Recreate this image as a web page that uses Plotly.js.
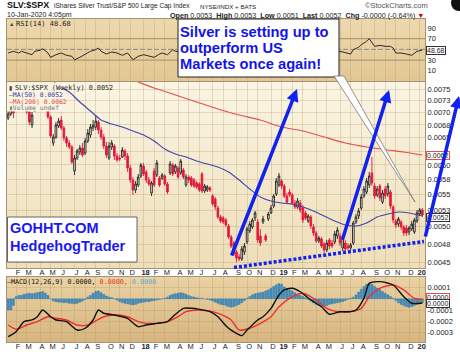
<!DOCTYPE html>
<html><head><meta charset="utf-8">
<script src="https://cdn.plot.ly/plotly-3.0.1.min.js"></script>
<style>html,body{margin:0;padding:0;background:#fff;}#chart{width:460px;height:352px;}</style>
</head><body><div id="chart"></div>
<script>
// ---------- DATA (weekly SLV:$SPX, week index 1 = 13-Jan-2017 ... 157 = 10-Jan-2020) ----------
const open = [0.006890,0.006972,0.007097,0.007055,0.007160,0.007202,0.007181,0.007309,0.007014,0.006749,
0.007034,0.007118,0.007181,0.007266,0.007440,0.007245,0.006910,0.006400,0.006515,0.006729,
0.006849,0.006690,0.006495,0.006400,0.006325,0.005893,0.006123,0.006232,0.006306,0.006214,
0.006438,0.006553,0.006690,0.006709,0.006809,0.006650,0.006515,0.006343,0.006123,0.006325,
0.006343,0.006159,0.006123,0.006141,0.006251,0.006159,0.005945,0.005738,0.005571,0.005654,
0.005806,0.005980,0.005875,0.005738,0.005522,0.005893,0.005823,0.005772,0.005772,0.005806,
0.005671,0.005858,0.005998,0.005875,0.005945,0.005858,0.005910,0.005654,0.005789,0.005772,
0.005738,0.005688,0.005671,0.005840,0.005555,0.005571,0.005604,0.005473,0.005425,0.005283,
0.005145,0.005129,0.005099,0.005009,0.004850,0.004764,0.004640,0.004572,0.004545,0.004640,
0.004779,0.004936,0.004995,0.005129,0.005069,0.004864,0.005069,0.004864,0.005114,0.005206,
0.005314,0.005505,0.005654,0.005721,0.005637,0.005473,0.005538,0.005489,0.005362,0.005299,
0.005362,0.005283,0.005206,0.005084,0.005145,0.004995,0.004907,0.004793,0.004821,0.004750,
0.004667,0.004807,0.004764,0.004779,0.004864,0.004864,0.004695,0.004764,0.004722,0.004695,
0.004764,0.005069,0.005160,0.005283,0.005473,0.005538,0.005654,0.005858,0.005637,0.005489,
0.005637,0.005377,0.005588,0.005505,0.005538,0.005299,0.005084,0.005039,0.005069,0.004995,
0.004980,0.004922,0.004966,0.004922,0.005084,0.005190,0.005252];
const high = [0.007034,0.007139,0.007139,0.007202,0.007266,0.007266,0.007374,0.007352,0.007055,0.007014,
0.007160,0.007245,0.007309,0.007528,0.007484,0.007288,0.006951,0.006572,0.006809,0.006890,
0.006931,0.006729,0.006534,0.006457,0.006362,0.006177,0.006288,0.006362,0.006400,0.006495,
0.006670,0.006769,0.006849,0.006951,0.006849,0.006709,0.006572,0.006419,0.006419,0.006457,
0.006381,0.006214,0.006177,0.006325,0.006288,0.006214,0.005998,0.005789,0.005721,0.005840,
0.006034,0.006034,0.005910,0.005789,0.005721,0.005945,0.006087,0.005806,0.005858,0.005840,
0.005704,0.006069,0.006034,0.006016,0.005980,0.006105,0.005945,0.005840,0.005823,0.005806,
0.005772,0.005721,0.005704,0.005875,0.005671,0.005654,0.005637,0.005505,0.005457,0.005314,
0.005175,0.005160,0.005129,0.005039,0.004878,0.004793,0.004667,0.004613,0.004722,0.004764,
0.004995,0.005084,0.005129,0.005237,0.005114,0.004966,0.005160,0.004893,0.005221,0.005330,
0.005505,0.005772,0.005858,0.005755,0.005671,0.005522,0.005588,0.005522,0.005409,0.005441,
0.005409,0.005330,0.005237,0.005190,0.005175,0.005039,0.004936,0.004864,0.004850,0.004779,
0.004807,0.004835,0.004807,0.004936,0.004995,0.004907,0.004878,0.004807,0.004764,0.004764,
0.005084,0.005190,0.005283,0.005505,0.005637,0.005772,0.005875,0.006141,0.005688,0.005637,
0.005671,0.005571,0.005637,0.005688,0.005571,0.005330,0.005114,0.005145,0.005099,0.005024,
0.005024,0.005009,0.005084,0.005129,0.005252,0.005283,0.005283];
const low = [0.006849,0.006931,0.006890,0.007034,0.007118,0.007118,0.007139,0.006972,0.006749,0.006690,
0.007014,0.007055,0.007097,0.007202,0.007181,0.006869,0.006495,0.006343,0.006476,0.006690,
0.006650,0.006438,0.006325,0.006288,0.006016,0.005823,0.006087,0.006177,0.006141,0.006177,
0.006400,0.006495,0.006631,0.006650,0.006572,0.006457,0.006288,0.006123,0.006087,0.006269,
0.006087,0.006051,0.006069,0.006123,0.006087,0.005875,0.005688,0.005489,0.005522,0.005621,
0.005772,0.005806,0.005688,0.005637,0.005473,0.005621,0.005789,0.005621,0.005738,0.005637,
0.005505,0.005823,0.005806,0.005840,0.005755,0.005823,0.005755,0.005621,0.005688,0.005621,
0.005604,0.005588,0.005538,0.005522,0.005522,0.005538,0.005538,0.005314,0.005252,0.005114,
0.005054,0.005039,0.004995,0.004821,0.004695,0.004585,0.004505,0.004518,0.004518,0.004599,
0.004750,0.004907,0.004966,0.005084,0.004764,0.004722,0.005039,0.004779,0.005084,0.005190,
0.005283,0.005473,0.005621,0.005588,0.005441,0.005346,0.005457,0.005330,0.005268,0.005268,
0.005206,0.005054,0.005099,0.005054,0.004966,0.004864,0.004764,0.004764,0.004695,0.004626,
0.004640,0.004681,0.004695,0.004750,0.004821,0.004722,0.004653,0.004653,0.004667,0.004667,
0.004736,0.005039,0.005114,0.005252,0.005441,0.005505,0.005604,0.005637,0.005425,0.005457,
0.005393,0.005346,0.005425,0.005457,0.005268,0.005054,0.004980,0.004995,0.004951,0.004864,
0.004864,0.004878,0.004936,0.004893,0.005054,0.005160,0.005145];
const close = [0.006972,0.007097,0.006993,0.007160,0.007202,0.007181,0.007309,0.007014,0.006809,0.006951,
0.007118,0.007181,0.007266,0.007440,0.007245,0.006910,0.006534,0.006515,0.006749,0.006829,
0.006690,0.006495,0.006400,0.006325,0.006051,0.006123,0.006251,0.006306,0.006177,0.006438,
0.006592,0.006709,0.006749,0.006829,0.006650,0.006515,0.006343,0.006177,0.006343,0.006400,
0.006159,0.006087,0.006105,0.006269,0.006159,0.005945,0.005738,0.005571,0.005671,0.005789,
0.005998,0.005840,0.005738,0.005671,0.005688,0.005654,0.006034,0.005654,0.005823,0.005671,
0.005538,0.006016,0.005840,0.005980,0.005789,0.006069,0.005789,0.005789,0.005738,0.005654,
0.005637,0.005621,0.005571,0.005555,0.005637,0.005621,0.005571,0.005346,0.005299,0.005145,
0.005084,0.005069,0.005024,0.004850,0.004722,0.004613,0.004558,0.004545,0.004681,0.004722,
0.004966,0.005039,0.005099,0.005206,0.004807,0.004764,0.005114,0.004807,0.005190,0.005283,
0.005473,0.005721,0.005806,0.005637,0.005473,0.005377,0.005489,0.005362,0.005299,0.005393,
0.005252,0.005099,0.005129,0.005160,0.005009,0.004907,0.004793,0.004835,0.004722,0.004667,
0.004764,0.004722,0.004722,0.004893,0.004951,0.004764,0.004835,0.004681,0.004695,0.004736,
0.005054,0.005145,0.005237,0.005457,0.005588,0.005721,0.005806,0.005688,0.005473,0.005588,
0.005441,0.005522,0.005473,0.005637,0.005314,0.005099,0.005024,0.005114,0.004995,0.004907,
0.004907,0.004980,0.005039,0.005099,0.005206,0.005252,0.005175];

const ma50Weeks = [16,20,24,28,32,36,40,44,48,52,56,60,64,68,72,76,80,84,88,92,96,100,104,108,112,116,120,124,128,132,136,140,144,148,152,157];
const ma50 = [0.00780,0.007573,0.007440,0.007224,0.007034,0.006849,0.006769,0.006709,0.006631,0.006553,0.006438,0.006288,0.006195,0.006141,0.006069,0.006016,0.005963,0.005875,0.005738,0.005588,0.005457,0.005393,0.005362,0.005346,0.005299,0.005237,0.005160,0.005084,0.005024,0.005009,0.005054,0.005145,0.005190,0.005221,0.005206,0.005160];
const ma200Weeks = [48,50,56,64,72,80,88,96,104,112,120,128,136,144,150,157];
const ma200 = [0.00771,0.007663,0.007528,0.007374,0.007224,0.007076,0.006951,0.006849,0.006709,0.006631,0.006515,0.006400,0.006325,0.006269,0.006232,0.006177];

const rsiWeeks = [1,3,5,6,8,10,11,13,14,16,17,19,21,23,25,26,28,30,32,34,35,36,38,40,42,44,46,48,50,52,54,56,58,59,61,63,64,68,72,76,80,84,88,92,96,100,104,108,112,116,120,124,126,128,130,131,133,134,136,137,138,139,141,143,145,146,147,149,151,153,155,157];
const rsi = [43.2,46.4,43.2,46.4,43.2,40.0,46.4,48.2,51.2,43.2,35.1,40.0,43.2,38.9,37.0,30.6,35.1,40.0,46.4,49.4,52.5,46.4,41.3,45.1,43.2,38.9,43.2,30.6,37.0,40.0,37.0,35.1,41.3,43.2,40.0,49.4,46.4,44,42,37,33,30,28,40,38,47,55,48,42,36,33,38,46.4,43.2,41.3,49.4,53.9,58.7,65.1,70.0,63.8,55.7,57.6,55.7,55.7,52.5,43.2,43.2,41.3,38.9,46.4,48.68];

const macdWeeks = [1,4,7,10,12,14,17,19,23,27,30,33,35,37,41,44,46,50,53,57,61,63,67,70,73,77,80,83,85,87,89,91,95,97,100,103,105,108,111,115,119,122,126,130,132,135,137,141,146,150,153,157];
const macd = [-3.38e-4,-2.94e-4,-2.04e-4,-1.89e-4,-1.60e-4,-1.00e-4,-1.60e-4,-1.89e-4,-2.04e-4,-2.79e-4,-2.63e-4,-1.89e-4,-1.00e-4,-1.29e-4,-1.45e-4,-1.60e-4,-1.74e-4,-2.49e-4,-2.34e-4,-2.19e-4,-2.04e-4,-1.60e-4,-0.85e-4,-0.85e-4,-0.94e-4,-1.15e-4,-1.60e-4,-2.40e-4,-2.80e-4,-3.08e-4,-3.29e-4,-2.79e-4,-1.89e-4,-1.60e-4,-0.85e-4,0.34e-4,0.79e-4,0.94e-4,0.63e-4,-0.11e-4,-0.71e-4,-1.38e-4,-1.15e-4,-1.15e-4,-1.00e-4,0.04e-4,1.38e-4,1.53e-4,1.23e-4,0.19e-4,-0.40e-4,-0.38e-4];
const signalWeeks = [1,4,8,12,16,19,23,27,31,35,38,42,46,50,53,57,61,65,68,73,78,83,85,88,92,96,100,103,107,112,117,121,125,130,134,137,141,146,150,154,157];
const signal = [-2.34e-4,-2.72e-4,-2.34e-4,-2.04e-4,-1.60e-4,-1.74e-4,-1.89e-4,-2.34e-4,-2.34e-4,-1.83e-4,-1.54e-4,-1.45e-4,-1.60e-4,-2.04e-4,-2.19e-4,-2.19e-4,-2.04e-4,-1.60e-4,-1.15e-4,-1.00e-4,-1.15e-4,-1.60e-4,-1.89e-4,-2.79e-4,-2.63e-4,-2.19e-4,-1.60e-4,-0.71e-4,0.04e-4,0.49e-4,-0.11e-4,-0.85e-4,-1.15e-4,-1.15e-4,-0.85e-4,0.19e-4,0.94e-4,1.23e-4,0.79e-4,0.04e-4,-0.05e-4];
const hist = [-1.0e-4,-1.0e-4,-0.6e-4,0.2e-4,0.3e-4,0.3e-4,0.4e-4,0.45e-4,0.5e-4,0.45e-4,
0.5e-4,0.55e-4,0.6e-4,0.65e-4,0.5e-4,0.3e-4,0.0,-0.2e-4,-0.25e-4,-0.3e-4,
-0.3e-4,-0.35e-4,-0.35e-4,-0.4e-4,-0.4e-4,-0.45e-4,-0.4e-4,-0.3e-4,-0.2e-4,-0.05e-4,
0.15e-4,0.3e-4,0.5e-4,0.65e-4,0.7e-4,0.55e-4,0.4e-4,0.25e-4,0.15e-4,0.1e-4,
0.0,-0.1e-4,-0.25e-4,-0.35e-4,-0.4e-4,-0.45e-4,-0.5e-4,-0.55e-4,-0.5e-4,-0.4e-4,
-0.35e-4,-0.3e-4,-0.25e-4,-0.25e-4,-0.2e-4,-0.15e-4,-0.1e-4,-0.05e-4,0.0,0.05e-4,
0.15e-4,0.3e-4,0.4e-4,0.45e-4,0.5e-4,0.55e-4,0.5e-4,0.4e-4,0.3e-4,0.2e-4,
0.15e-4,0.1e-4,0.05e-4,0.05e-4,0.0,-0.05e-4,-0.1e-4,-0.2e-4,-0.3e-4,-0.4e-4,
-0.5e-4,-0.55e-4,-0.6e-4,-0.7e-4,-0.75e-4,-0.7e-4,-0.6e-4,-0.5e-4,-0.35e-4,-0.15e-4,
0.05e-4,0.2e-4,0.35e-4,0.45e-4,0.5e-4,0.55e-4,0.6e-4,0.7e-4,0.8e-4,0.95e-4,
1.1e-4,1.25e-4,1.35e-4,1.3e-4,1.05e-4,0.9e-4,0.8e-4,0.7e-4,0.55e-4,0.4e-4,
0.3e-4,0.2e-4,0.1e-4,-0.05e-4,-0.2e-4,-0.35e-4,-0.5e-4,-0.6e-4,-0.65e-4,-0.7e-4,
-0.6e-4,-0.5e-4,-0.45e-4,-0.4e-4,-0.35e-4,-0.3e-4,-0.25e-4,-0.15e-4,-0.05e-4,0.05e-4,
0.15e-4,0.35e-4,0.6e-4,0.85e-4,1.1e-4,1.3e-4,1.4e-4,1.3e-4,1.1e-4,0.95e-4,
0.8e-4,0.65e-4,0.5e-4,0.35e-4,0.2e-4,0.05e-4,-0.15e-4,-0.35e-4,-0.5e-4,-0.6e-4,
-0.7e-4,-0.75e-4,-0.7e-4,-0.6e-4,-0.5e-4,-0.4e-4,-0.35e-4];

const monthTicks = ['2017-02-03','2017-03-03','2017-04-07','2017-05-05','2017-06-02','2017-07-07','2017-08-04','2017-09-01','2017-10-06','2017-11-03','2017-12-01',
'2018-01-05','2018-02-02','2018-03-02','2018-04-06','2018-05-04','2018-06-01','2018-07-06','2018-08-03','2018-09-07','2018-10-05','2018-11-02','2018-12-07',
'2019-01-04','2019-02-01','2019-03-01','2019-04-05','2019-05-03','2019-06-07','2019-07-05','2019-08-02','2019-09-06','2019-10-04','2019-11-01','2019-12-06','2020-01-03'];
const monthLabels = ['F','M','A','M','J','J','A','S','O','N','D','<b>18</b>','F','M','A','M','J','J','A','S','O','N','D','<b>19</b>','F','M','A','M','J','J','A','S','O','N','D','<b>20</b>'];
const priceTicks = [0.0045,0.00475,0.005,0.00525,0.0055,0.00575,0.006,0.00625,0.0065,0.00675,0.007,0.00725,0.0075];
const priceLabels = ['0.0045','0.0048','0.0050','0.0053','0.0055','0.0058','0.0060','','0.0065','0.0068','0.0070','0.0073','0.0075'];
const rsiTicks = [10,30,70,90];
const macdTicks = [0.0001,-0.0001,-0.0002,-0.0003];
const macdLabels = ['0.0001','-0.0001','-0.0002','-0.0003'];

// ---------- helpers ----------
function weekDate(i){ return new Date(Date.UTC(2017,0,6) + i*7*864e5).toISOString().slice(0,10); }
const weeks = close.map((_,k)=>weekDate(k+1));
const L0=7, R0=425, T0=19, B0=342;
const px = x => (x-L0)/(R0-L0);
const py = y => (B0-y)/(B0-T0);
const ARIAL = 'Liberation Sans, Arial, sans-serif';
const MONO = 'DejaVu Sans Mono, monospace';
function grad(c1,c2){
  const s = '<svg xmlns="http://www.w3.org/2000/svg" width="10" height="100" viewBox="0 0 10 100" preserveAspectRatio="none"><defs><linearGradient id="g" x1="0" y1="0" x2="0" y2="1"><stop offset="0" stop-color="'+c1+'"/><stop offset="1" stop-color="'+c2+'"/></linearGradient></defs><rect width="10" height="100" fill="url(#g)"/></svg>';
  return 'data:image/svg+xml;base64,'+btoa(s);
}
function bgImg(c1,c2,ytop,ybot){ return {source:grad(c1,c2),xref:'paper',yref:'paper',x:0,y:py(ytop),sizex:1,sizey:py(ytop)-py(ybot),xanchor:'left',yanchor:'top',sizing:'stretch',layer:'below'}; }
function label(x,y,text,size,color,family,extra){ return Object.assign({xref:'paper',yref:'paper',x:px(x),y:py(y),xanchor:'left',yanchor:'middle',showarrow:false,text:text,borderpad:0,font:{size:size,color:color,family:family}},extra||{}); }
function arrow(hx,hy,tx,ty){ return {xref:'paper',yref:'paper',x:px(hx),y:py(hy),ax:tx-hx,ay:ty-hy,showarrow:true,text:'',arrowhead:2,arrowsize:0.7,arrowwidth:3.5,arrowcolor:'#1122EE',standoff:0,startstandoff:0}; }
function axLabel(yref,y,text,border,shift){ return {xref:'paper',yref:yref,x:1,xanchor:'left',xshift:1,y:y,yshift:shift||0,yanchor:'middle',text:text,showarrow:false,bgcolor:'#ffffff',bordercolor:border,borderwidth:1,borderpad:0,font:{size:7,family:ARIAL,color:'#222'}}; }

const GRID = 'rgba(175,145,95,0.28)';
const LINE = '#A39275';
const tickFont = {size:7.5,family:ARIAL,color:'#222'};

const data = [
  {type:'scatter',mode:'lines',x:rsiWeeks.map(weekDate),y:rsi,xaxis:'x',yaxis:'y',line:{color:'#2a2a2a',width:1},hoverinfo:'skip'},
  {type:'candlestick',x:weeks,open:open,high:high,low:low,close:close,xaxis:'x2',yaxis:'y2',
   increasing:{line:{color:'#1e1e1e',width:0.9},fillcolor:'rgba(255,255,255,0.55)'},
   decreasing:{line:{color:'#E3163A',width:0.9},fillcolor:'#E3163A'},whiskerwidth:0,hoverinfo:'skip'},
  {type:'scatter',mode:'lines',x:ma50Weeks.map(weekDate),y:ma50,xaxis:'x2',yaxis:'y2',line:{color:'#4444AA',width:1.1,shape:'spline',smoothing:0.6},hoverinfo:'skip'},
  {type:'scatter',mode:'lines',x:ma200Weeks.map(weekDate),y:ma200,xaxis:'x2',yaxis:'y2',line:{color:'#E45050',width:1.1,shape:'spline',smoothing:0.6},hoverinfo:'skip'},
  {type:'bar',x:weeks,y:hist,xaxis:'x3',yaxis:'y3',marker:{color:'#3F8FC4',line:{color:'#2C6E9C',width:0.4}},hoverinfo:'skip'},
  {type:'scatter',mode:'lines',x:signalWeeks.map(weekDate),y:signal,xaxis:'x3',yaxis:'y3',line:{color:'#F02E2E',width:1.4,shape:'spline',smoothing:0.7},hoverinfo:'skip'},
  {type:'scatter',mode:'lines',x:macdWeeks.map(weekDate),y:macd,xaxis:'x3',yaxis:'y3',line:{color:'#111111',width:1.4,shape:'spline',smoothing:0.7},hoverinfo:'skip'}
];

const xCommon = {type:'date',range:['2017-01-10','2020-01-17'],tickmode:'array',tickvals:monthTicks,ticktext:monthLabels,
  showgrid:true,gridcolor:GRID,gridwidth:1,showline:true,mirror:true,linecolor:LINE,linewidth:1,ticks:'',zeroline:false,
  tickfont:tickFont,ticklabelshift:2,ticklabelstandoff:-3,fixedrange:true};

const layout = {
  width:460,height:352,margin:{l:L0,r:460-R0,t:T0,b:352-B0},
  paper_bgcolor:'#ffffff',plot_bgcolor:'rgba(0,0,0,0)',showlegend:false,bargap:0.25,boxgap:0.12,
  font:{family:ARIAL,size:7.5,color:'#222'},
  xaxis:Object.assign({},xCommon,{anchor:'y',showticklabels:false}),
  xaxis2:Object.assign({},xCommon,{anchor:'y2',matches:'x',showticklabels:true,rangeslider:{visible:false}}),
  xaxis3:Object.assign({},xCommon,{anchor:'y3',matches:'x',showticklabels:true}),
  yaxis:{domain:[py(81),1],anchor:'x',side:'right',range:[-9.25,106.9],tickmode:'array',tickvals:rsiTicks,ticktext:rsiTicks.map(String),
    showgrid:false,zeroline:false,showline:true,mirror:true,linecolor:LINE,ticks:'',tickfont:tickFont,fixedrange:true},
  yaxis2:{domain:[py(268),py(82)],anchor:'x2',side:'right',type:'log',range:[Math.log10(0.0044252),Math.log10(0.0076634)],
    tickmode:'array',tickvals:priceTicks,ticktext:priceLabels,showgrid:true,gridcolor:GRID,zeroline:false,showline:true,mirror:true,linecolor:LINE,ticks:'',tickfont:tickFont,fixedrange:true},
  yaxis3:{domain:[0,py(277)],anchor:'x3',side:'right',range:[-3.857e-4,1.946e-4],tickmode:'array',tickvals:macdTicks,ticktext:macdLabels,
    showgrid:true,gridcolor:GRID,zeroline:false,showline:true,mirror:true,linecolor:LINE,ticks:'',tickfont:tickFont,fixedrange:true},
  images:[
    bgImg('#EDD8AE','#E2C794',19,81),
    bgImg('#FAF5E4','#EEDEB8',82,268),
    bgImg('#E9D2A4','#D7B580',277,342)
  ],
  shapes:[
    {type:'line',xref:'paper',yref:'y',x0:0,x1:1,y0:70,y1:70,line:{color:'#B29A72',width:1.3},layer:'below'},
    {type:'line',xref:'paper',yref:'y',x0:0,x1:1,y0:30,y1:30,line:{color:'#B29A72',width:1.3},layer:'below'},
    {type:'line',xref:'paper',yref:'y',x0:0,x1:1,y0:50,y1:50,line:{color:'#8C8C8C',width:1,dash:'5px,2px'},layer:'below'},
    // legend backdrop in price panel
    {type:'rect',xref:'paper',yref:'paper',x0:px(7.5),x1:px(62),y0:py(111.5),y1:py(82.5),fillcolor:'#F9F3E1',line:{width:0},layer:'above'},
    // text box + callout
    {type:'rect',xref:'paper',yref:'paper',x0:px(178),x1:px(339),y0:py(77),y1:py(19),fillcolor:'#ffffff',line:{color:'#222',width:1},layer:'above'},
    {type:'path',xref:'paper',yref:'paper',path:'M '+px(334)+','+py(76)+' L '+px(415)+','+py(202)+' L '+px(344)+','+py(76)+' Z',fillcolor:'#ffffff',line:{color:'#777',width:0.8},layer:'above'},
    {type:'rect',xref:'paper',yref:'paper',x0:px(7.5),x1:px(137),y0:py(262),y1:py(217),fillcolor:'#ffffff',line:{color:'#666',width:1},layer:'above'},
    {type:'line',xref:'paper',yref:'paper',x0:px(234),y0:py(267.5),x1:px(424),y1:py(241.5),line:{color:'#1122EE',width:3.5,dash:'3px,2px'},layer:'above'},
    {type:'circle',xref:'paper',yref:'paper',x0:px(451),x1:px(467),y0:py(11),y1:py(-5),fillcolor:'#111',line:{width:0},layer:'above'}
  ],
  annotations:[
    label(6,5.5,'<b>SLV:$SPX</b>',9,'#111',ARIAL),
    label(53,6,'iShares Silver Trust/S&amp;P 500 Large Cap Index',6.6,'#222',ARIAL),
    label(199,6.5,'NYSE/INDX + BATS',6.2,'#222',ARIAL),
    label(364,5.5,'©StockCharts.com',7.5,'#555',ARIAL),
    label(6,15,'10-Jan-2020 4:05pm',7,'#222',ARIAL),
    label(169,15,'<b>Open</b> 0.0053  <b>High</b> 0.0053  <b>Low</b> 0.0051  <b>Last</b> 0.0052  <b>Chg</b> -0.0000 (-0.64%) <span style="color:#cc0000">▼</span>',7.2,'#222',ARIAL),
    label(8,23.5,'▲',5.5,'#3d4d2d',ARIAL),
    label(15,23.5,'RSI(14) 48.68',7,'#222',MONO),
    label(7.5,88,'▮',6,'#444',ARIAL),
    label(14,88,'SLV:$SPX (Weekly) 0.0052',6.8,'#222',MONO),
    label(8,94.7,'—MA(50) 0.0052',6.4,'#3A3AA6',MONO),
    label(8,101.6,'—MA(200) 0.0062',6.4,'#E04848',MONO),
    label(8,108.3,'▮Volume undef',6.4,'#777',MONO),
    label(6,281.5,'<span style="color:#111">—MACD(12,26,9) 0.0000,</span><span style="color:#E23030"> 0.0000,</span><span style="color:#5FA3D6"> 0.0000</span>',6.7,'#111',MONO),
    label(179,31.5,'<b>Silver is setting up to</b>',14.7,'#1414E6',ARIAL),
    label(179,48,'<b>outperform US</b>',14.7,'#1414E6',ARIAL),
    label(179,64.5,'<b>Markets once again!</b>',14.7,'#1414E6',ARIAL),
    label(9,228.5,'<b>GOHHT.COM</b>',14.5,'#1A1AF0',ARIAL),
    label(9,246.5,'<b>HedgehogTrader</b>',14.5,'#1A1AF0',ARIAL),
    axLabel('y',48.68,'48.68','#333'),
    axLabel('y2',Math.log10(ma200[ma200.length-1]),'0.0062','#E05050'),
    axLabel('y2',Math.log10(close[close.length-1]),'0.0052','#333',-3),
    axLabel('y3',0.0,'0.0000','#E05050',1),
    axLabel('y3',-0.4e-4,'0.0000','#333',0),
    arrow(297,89,231,257),
    arrow(389,90,342,241),
    arrow(459,96,425,238)
  ]
};

Plotly.newPlot('chart',data,layout,{staticPlot:true,displayModeBar:false});
</script></body></html>
